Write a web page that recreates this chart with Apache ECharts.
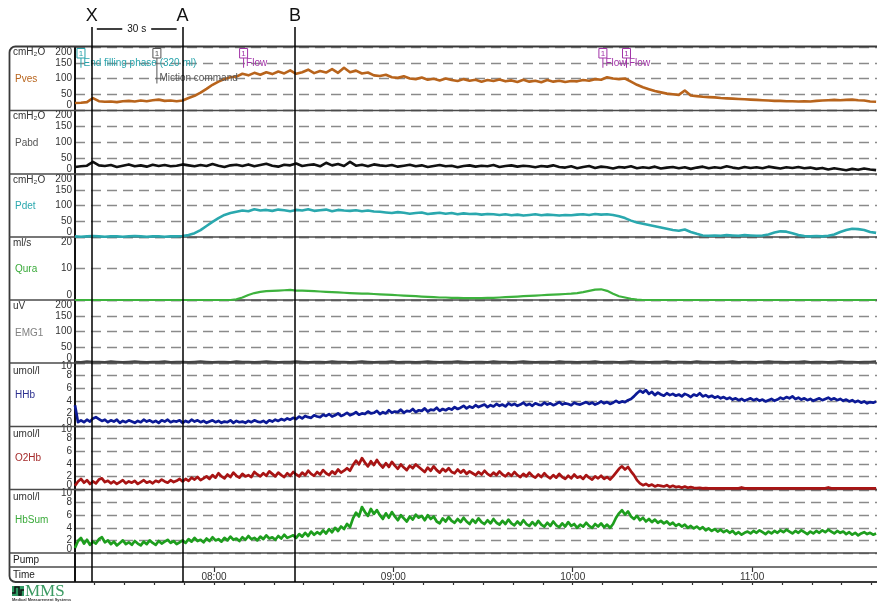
<!DOCTYPE html>
<html><head><meta charset="utf-8">
<script src="https://cdn.jsdelivr.net/npm/echarts@6/dist/echarts.min.js"></script>
<style>html,body{margin:0;padding:0;background:#fff}#c{width:877px;height:602px}</style>
</head><body><div id="c"></div>
<script>
// ---- time axis (minutes after 07:00) ----
const X_MIN = 13.5, X_MAX = 281.8;
const T0 = 13.5;
const timeTicks = [20,30,40,50,60,70,80,90,100,110,120,130,140,150,160,170,180,190,200,210,220,230,240,250,260,270,280];
const hourTicks = [60,120,180,240];
// cursor lines
const cursorNames = ['X','A','B'];
const cursorTimes = [19.1, 49.5, 87.1];
// events in Pves panel
const eventTimes = [15.5, 40.9, 69.9, 190.1, 198.0];
const eventLevels = [150, 100, 150, 150, 150];
const eventTexts = ['End filling phase (320 ml)', 'Miction command', 'Flow', 'Flow', 'Flow'];
const eventColors = ['#27a3ab', '#555555', '#a235a8', '#a235a8', '#a235a8'];

// ---- channel values (2-min sampling) ----
const pves = [22,23,25,38,28,
26,27,25,28,29,27,30,28,31,33,29,30,28,
30,38,45,55,67,80,90,98,104,106,
115,110,118,112,120,114,122,116,126,115,120,128,117,124,119,130,118,134,120,125,116,119,
110,108,112,104,102,107,100,98,103,96,
99,94,100,95,92,98,93,96,90,95,
92,97,91,94,89,96,90,93,88,95,
90,93,89,92,91,95,93,98,96,104,
100,98,100,90,80,72,66,60,56,52,
50,48,62,46,44,42,41,40,38,37,
36,35,34,33,32,31,30,29,29,28,
28,27,28,27,29,30,31,32,31,32,
33,31,30,27,26];
const pabd = [22,24,26,38,27,25,28,22,26,30,
24,27,23,29,25,28,24,26,30,27,
24,28,25,31,26,22,27,29,25,30,
24,28,32,26,23,29,27,33,25,28,
30,24,35,27,31,25,38,26,29,24,
30,27,25,28,23,26,29,24,27,22,
25,28,24,26,21,25,27,23,26,24,
28,22,25,27,23,26,24,21,25,23,
27,22,20,24,18,22,25,19,23,21,
17,22,20,24,18,21,19,23,17,20,
22,18,21,16,20,23,18,21,19,24,
20,17,22,19,21,18,23,20,17,21,
19,22,18,20,16,19,14,18,15,12,
16,13,17,14,12];
const pdet = [2,1,2,3,2,1,2,2,1,2,3,2,1,2,2,1,2,2,3,
6,12,22,35,48,60,70,76,80,
84,82,88,84,86,83,87,85,82,86,84,88,83,85,87,82,86,84,83,85,82,84,81,
80,78,76,79,77,74,76,78,73,75,77,74,76,72,75,73,74,71,73,72,
70,72,69,71,68,70,72,69,71,70,68,70,69,71,72,70,73,71,72,70,
66,60,52,46,42,38,34,30,26,22,20,24,16,10,5,
4,5,4,6,5,4,6,5,4,5,
8,14,18,17,12,6,
3,2,3,2,4,
8,16,22,26,25,22,16,13];
const qura = [0,0,0,0,0,0,0,0,0,0,0,0,0,0,0,0,0,0,0,0,0,0,0,0,0,0,0,
0.2,0.8,1.6,2.2,2.6,2.8,2.9,3.0,3.1,3.2,
3.0,3.0,2.9,2.8,2.7,2.6,2.5,2.4,2.3,2.2,2.1,2.0,2.0,1.9,1.8,
1.7,1.6,1.5,1.4,1.3,1.2,1.1,1.0,0.9,
0.8,0.8,0.7,0.7,0.6,0.6,0.6,0.6,0.7,0.7,
0.8,0.9,1.0,1.1,1.2,1.3,1.4,1.5,
1.6,1.7,1.8,1.9,2.0,2.2,2.5,2.9,
3.3,3.4,2.9,2.0,1.2,0.8,0.4,0.1,
0,0,0,0,0,0,0,0,0,0,0,0,0,0,0,0,0,0,0,0,0,0,0,0,0,0,0,0,0,0,0,0,0,0,0,0,0,0,0,0];
const emg1 = [4,3,5,4,4,3,5,4,3,4,
5,4,3,4,4,5,3,4,4,3,
4,5,4,3,4,4,3,5,4,4,
3,4,5,4,3,4,4,5,4,3,
4,4,3,5,4,4,3,4,5,4,
3,4,4,5,3,4,4,3,4,5,
4,3,4,4,5,4,3,4,4,3,
5,4,4,3,4,5,4,3,4,4,
3,5,4,4,3,4,4,5,3,4,
4,3,4,5,4,4,3,4,4,5,
3,4,4,3,5,4,4,3,4,4,
5,3,4,4,3,4,5,4,4,3,
4,4,5,3,4,4,3,4,5,4,
4,3,4,4,5];
// ---- NIRS channels (1-min sampling) ----
const hhb = [3.3,0.6,
0.9,0.6,1.0,0.7,1.2,1.4,1.1,0.8,1.0,0.6,
0.9,0.7,1.0,0.5,0.8,0.6,0.9,0.7,0.5,0.8,
0.6,1.0,0.7,0.9,0.6,0.8,0.5,0.9,0.7,1.0,
0.6,0.8,0.7,0.9,0.5,0.8,0.6,1.0,0.7,0.9,
0.6,0.8,0.5,0.7,0.9,0.6,0.8,0.5,0.7,0.6,
0.9,0.5,0.8,0.6,0.7,0.5,0.8,0.6,0.9,0.7,
0.6,0.8,0.5,0.9,0.7,1.0,0.8,1.1,0.9,1.2,
1.0,
1.3,1.1,1.5,1.2,1.6,1.4,1.3,1.7,1.5,1.4,
1.8,1.6,1.9,1.5,1.7,2.0,1.6,1.8,2.1,1.7,
1.9,2.2,1.8,2.0,1.9,2.3,2.0,2.1,2.4,1.9,
2.2,2.0,2.5,2.1,2.3,2.2,2.6,2.1,2.4,2.3,
2.7,2.2,2.5,2.4,2.8,2.3,2.6,2.5,2.9,2.4,
2.7,2.5,2.8,
2.6,3.0,2.7,2.9,3.2,2.8,3.1,2.9,3.3,3.0,
3.2,3.4,3.0,3.3,3.1,3.5,3.2,3.4,3.1,3.6,
3.3,3.5,3.2,3.4,3.7,3.3,3.5,3.2,3.6,3.4,
3.3,3.7,3.4,3.6,3.3,3.5,3.8,3.4,3.6,3.5,
3.3,3.7,3.5,3.4,3.6,3.8,3.5,3.7,3.4,3.6,
3.9,3.6,3.8,3.5,3.7,4.0,3.7,3.9,3.8,4.1,
4.3,4.7,5.2,5.6,5.3,5.7,5.1,5.4,4.9,5.3,5.0,4.8,5.2,4.9,5.1,
4.8,5.0,4.7,5.1,4.9,4.6,5.0,4.8,5.2,4.7,
4.9,4.6,4.8,4.5,4.7,4.4,4.6,4.3,4.5,4.2,
4.4,4.1,4.3,4.0,4.2,4.4,4.1,4.3,4.0,4.2,
3.9,4.1,4.3,4.0,4.2,4.5,4.3,4.6,4.4,4.7,
4.3,4.5,4.2,4.4,4.1,4.3,4.0,4.2,4.4,4.1,
4.3,4.5,4.2,4.4,4.1,4.3,4.0,4.2,3.9,4.1,
3.8,4.0,3.7,3.9,3.6,3.8,3.7,3.9];
const o2hb = [0.5,1.2,1.6,1.0,1.4,0.8,1.2,0.9,1.5,1.7,
1.1,1.3,0.9,1.2,0.8,1.1,1.4,0.9,1.2,1.0,
1.3,0.8,1.1,1.4,1.0,1.2,0.9,1.3,1.1,1.5,
1.2,1.0,1.4,1.1,1.3,1.6,
1.2,1.6,1.3,1.8,1.5,1.9,1.4,1.7,2.0,1.6,
2.2,1.8,2.5,2.0,1.7,2.3,1.9,2.6,2.1,1.8,
2.4,2.0,2.2,1.9,2.7,2.3,2.0,2.5,2.1,2.8,
2.4,2.0,2.6,2.2,1.9,2.5,2.1,2.7,2.3,2.0,
2.6,2.2,2.9,2.4,2.1,2.7,2.3,3.0,2.5,2.2,
2.8,2.4,3.1,2.6,2.9,
3.3,2.9,3.8,4.5,3.9,4.9,4.2,3.6,4.4,3.8,
4.6,3.9,3.4,4.1,3.5,4.3,3.7,3.2,3.9,3.4,
3.0,3.7,3.3,3.9,3.5,
3.1,2.7,3.4,2.9,3.6,3.0,2.6,3.2,2.8,3.3,
2.7,2.5,3.1,2.6,3.0,2.4,2.8,2.5,2.2,2.7,
2.3,2.9,2.4,2.1,2.6,2.2,2.8,2.3,2.0,2.5,
2.1,2.7,2.2,1.9,2.4,2.0,2.6,2.1,1.8,2.3,
1.9,2.5,2.0,1.7,2.2,1.8,2.4,1.9,1.6,2.1,
1.7,2.3,1.8,2.0,1.6,2.2,1.8,1.5,2.0,1.7,
2.1,1.6,1.9,1.5,2.0,
2.6,3.2,3.6,3.1,3.5,2.8,2.2,1.4,0.9,0.6,0.8,0.5,0.7,0.4,0.6,0.5,
0.4,0.6,0.3,0.5,0.3,0.4,0.2,0.4,0.2,0.3,
0.2,0.15,0.2,0.1,0.15,0.1,0.1,0.1,0.1,0.1,
0.1,0.1,0.1,0.1,0.1,0.1,0.25,0.1,0.1,0.1,
0.1,0.1,0.1,0.1,0.1,0.1,0.1,0.1,0.1,0.1,
0.1,0.1,0.1,0.1,0.1,0.1,0.1,0.1,0.1,0.1,
0.1,0.1,0.1,0.1,0.1,0.25,0.1,0.1,0.1,0.1,
0.1,0.1,0.1,0.1,0.1,0.1,0.1,0.1,0.1,0.1,
0.1,0.1];
const hbsum = [0.8,1.9,2.4,1.5,2.1,1.3,1.8,1.5,2.2,2.5,
1.7,2.0,1.4,1.8,1.2,1.6,2.0,1.4,1.7,1.3,
1.9,1.5,1.2,1.8,1.4,2.0,1.6,1.3,1.9,1.5,
1.8,2.1,1.6,1.9,1.4,1.7,2.0,1.6,2.2,1.8,
2.4,1.9,2.1,1.7,2.3,1.9,2.5,2.0,2.2,1.8,
2.4,2.0,2.6,2.1,2.3,1.9,2.5,2.1,2.7,2.2,
2.4,2.0,2.6,2.2,2.8,2.3,2.5,2.1,2.7,2.3,
2.9,2.4,2.6,
2.8,2.4,3.0,2.6,3.2,2.7,3.4,2.9,3.3,3.0,3.6,3.1,3.8,3.3,4.0,3.5,4.2,3.8,
4.6,4.1,5.5,6.4,5.8,7.3,6.5,5.9,7.0,6.2,
6.8,6.0,5.4,6.3,5.6,6.5,5.8,5.2,6.0,5.5,
5.0,5.8,5.3,6.1,5.6,
5.9,5.2,6.0,5.4,5.8,5.0,4.7,5.5,5.0,5.7,
5.1,4.8,5.4,4.9,5.6,5.0,4.6,5.3,4.8,5.5,
4.9,4.6,5.2,4.7,5.4,4.8,4.5,5.1,4.6,5.3,
4.7,4.4,5.0,4.5,5.2,4.6,4.3,4.9,4.4,5.1,
4.5,4.2,4.8,4.3,5.0,4.4,4.1,4.7,4.2,4.9,
4.3,4.6,4.0,4.5,4.2,4.8,4.3,4.0,4.6,4.2,
4.7,4.1,4.5,4.0,4.6,
5.6,6.3,6.8,6.1,6.6,5.8,5.4,5.9,5.2,5.6,5.0,5.4,4.9,5.3,4.8,5.1,
4.7,5.0,4.5,4.8,4.3,4.6,4.2,4.5,4.0,4.3,
3.9,4.2,3.8,4.1,3.6,3.9,3.5,3.8,3.4,3.7,
3.3,3.6,3.2,3.5,3.0,3.3,2.9,3.2,3.4,3.1,
3.5,3.2,3.6,3.3,3.0,3.4,3.1,3.5,3.2,3.6,
3.3,3.7,3.4,3.1,3.5,3.2,3.6,3.3,3.0,3.4,
3.1,3.5,3.2,3.6,3.3,3.7,3.4,3.1,3.5,3.2,
3.4,3.0,3.3,2.9,3.2,2.8,3.1,3.3,3.0,3.2,
2.9,3.1];

// ---- channel definitions ----
const chNames = ['Pves','Pabd','Pdet','Qura','EMG1','HHb','O2Hb','HbSum'];
const chUnits = ['cmH\u2082O','cmH\u2082O','cmH\u2082O','ml/s','uV','umol/l','umol/l','umol/l'];
const chMax = [200,200,200,20,200,10,10,10];
const chStep = [50,50,50,10,50,2,2,2];
const chData = [pves,pabd,pdet,qura,emg1,hhb,o2hb,hbsum];
const chDt = [2,2,2,2,2,1,1,1];

// ---- layout / style ----
const FONT = 'Liberation Sans, Arial, sans-serif';
const tops = [47,110,174,237,300,363,426,490];
const heights = [63,64,63,63,63,63,63,63];
const lineColors = ['#b8641c','#111111','#2aa8ae','#3db23d','#444444','#0c1a96','#a81414','#1e9e1e'];
const nameColors = ['#b8641c','#555555','#2aa8ae','#3aaa3a','#808080','#2b2f8f','#a52a2a','#3aaa3a'];
const lineWidths = [2.6,2.6,2.6,2.2,2.2,2.7,2.7,2.7];

const grids = [], xAxes = [], yAxes = [], series = [], endAxes = [];
for (let i = 0; i < 8; i++) {
  grids.push({left:75, right:0, top:tops[i], height:heights[i]});
  xAxes.push({gridIndex:i, type:'value', min:X_MIN, max:X_MAX, show:false});
  const mx = chMax[i];
  const lab = {fontSize:10, color:'#333', fontFamily:FONT};
  const pad = mx === 10 ? 7 : 10;
  // main axis: line, dashed grid, inner labels
  yAxes.push({gridIndex:i, type:'value', min:0, max:mx, interval:chStep[i],
    axisLine:{show:true, lineStyle:{color:'#111', width:2}},
    axisTick:{show:false},
    splitLine:{show:true, lineStyle:{color:'#8a8a8a', width:1.3, type:[10,6]}},
    axisLabel:{margin:3, fontSize:10, color:'#333', fontFamily:FONT, hideOverlap:false,
      formatter: v => (v === 0 || v === mx) ? '' : String(v)}
  });
  // end labels (0 and max), nudged inside the panel
  endAxes.push({gridIndex:i, type:'value', min:0, max:mx, position:'left', offset:0,
    axisLine:{show:false}, axisTick:{show:false}, splitLine:{show:false},
    axisLabel:{margin:3, customValues:[0, mx], hideOverlap:false, fontSize:10, color:'#333', fontFamily:FONT,
      formatter: v => v === mx ? '{t|' + v + '}' : '{b|' + v + '}',
      rich:{t:Object.assign({padding:[pad,0,0,0]}, lab), b:Object.assign({padding:[0,0,pad,0]}, lab)}}
  });
  const dt = chDt[i];
  series.push({type:'line', xAxisIndex:i, yAxisIndex:i, showSymbol:false, symbol:'none',
    data: chData[i].map((v,k) => [T0 + k*dt, v]),
    lineStyle:{color:lineColors[i], width:lineWidths[i], join:'round'}, silent:true, z:3});
}
// time row
grids.push({left:75, right:0, top:567, height:15});
xAxes.push({gridIndex:8, type:'value', min:X_MIN, max:X_MAX, position:'top',
  axisLine:{show:false}, splitLine:{show:false},
  axisTick:{show:true, inside:true, length:3, customValues:timeTicks, lineStyle:{color:'#333', width:1.2}},
  axisLabel:{show:true, inside:true, margin:5, customValues:hourTicks, fontSize:10, color:'#333', fontFamily:FONT,
    formatter: v => { const h = 7 + Math.round(v/60); return (h < 10 ? '0' : '') + h + ':00'; }}
});
xAxes.push({gridIndex:8, type:'value', min:X_MIN, max:X_MAX, position:'top', offset:0,
  axisLine:{show:false}, splitLine:{show:false}, axisLabel:{show:false},
  axisTick:{show:true, inside:true, length:5, customValues:hourTicks, lineStyle:{color:'#333', width:1.2}}
});
yAxes.push({gridIndex:8, type:'value', show:false, min:0, max:1});
// overlay for cursor lines
grids.push({left:75, right:0, top:20, bottom:20});
xAxes.push({gridIndex:9, type:'value', min:X_MIN, max:X_MAX, show:false});
yAxes.push({gridIndex:9, type:'value', min:0, max:1, show:false});
endAxes.forEach(a => yAxes.push(a));

// events
series.push({type:'custom', xAxisIndex:0, yAxisIndex:0, clip:false, silent:true, z:4,
  data: eventTimes.map((t,i) => [t, eventLevels[i]]),
  renderItem: function (params, api) {
    const i = params.dataIndex;
    const t = api.value(0), lv = api.value(1);
    const top = api.coord([t, 200]);
    const lp = api.coord([t, lv]);
    const col = eventColors[i];
    return {type:'group', children:[
      {type:'rect', shape:{x:top[0]-4, y:top[1]+1.5, width:8, height:9.5}, style:{fill:'#fff', stroke:col, lineWidth:1}},
      {type:'text', style:{x:top[0], y:top[1]+6.5, text:'1', fill:col, font:'8px ' + FONT, align:'center', verticalAlign:'middle'}},
      {type:'line', shape:{x1:top[0], y1:top[1]+11, x2:top[0], y2:lp[1]+5}, style:{stroke:col, lineWidth:1}},
      {type:'text', style:{x:top[0]+2.5, y:lp[1], text:eventTexts[i], fill:col, font:'10px ' + FONT, verticalAlign:'middle'}}
    ]};
  }
});

// cursor lines X, A, B and "30 s"
const yTop = 1 - 7/562, y30 = 1 - 9/562;
const mlData = cursorTimes.map((t,i) => [
  {coord:[t, 0], name:cursorNames[i]},
  {coord:[t, yTop]}
]);
mlData.push([
  {coord:[cursorTimes[0] + 1.7, y30], name:'30 s',
   label:{position:'middle', fontSize:10, color:'#111', backgroundColor:'#fff', padding:[1,5], distance:-6, formatter:'{b}'}},
  {coord:[cursorTimes[1] - 2.0, y30]}
]);
series.push({type:'line', xAxisIndex:10, yAxisIndex:9, data:[], silent:true, z:10,
  markLine:{silent:true, symbol:['none','none'], animation:false,
    lineStyle:{color:'#000', width:1.5, type:'solid'},
    label:{show:true, position:'end', formatter:'{b}', fontSize:18, color:'#111', fontFamily:FONT, distance:2},
    data: mlData}
});

// frame, separators, labels
const gfx = [];
gfx.push({type:'rect', z:1, shape:{x:9.5, y:46.5, width:900, height:535.5, r:6}, style:{fill:'none', stroke:'#3a3a3a', lineWidth:1.8}});
[110.5,174,237,300,363,426.5,489.5,553,567].forEach(y => {
  gfx.push({type:'line', z:1, shape:{x1:9.5, y1:y, x2:877, y2:y}, style:{stroke:'#4a4a4a', lineWidth:1.5}});
});
gfx.push({type:'line', z:1, shape:{x1:75, y1:553, x2:75, y2:582}, style:{stroke:'#111', lineWidth:2}});
const unitY = [52,116,180,243,306,371,434,497];
const nameY = [79,143,206,269,333,395,458,520];
for (let i = 0; i < 8; i++) {
  gfx.push({type:'text', z:5, style:{x:13, y:unitY[i], text:chUnits[i], fill:'#333', font:'10px ' + FONT, verticalAlign:'middle'}});
  gfx.push({type:'text', z:5, style:{x:15, y:nameY[i], text:chNames[i], fill:nameColors[i], font:'10px ' + FONT, verticalAlign:'middle'}});
}
gfx.push({type:'text', z:5, style:{x:13, y:560, text:'Pump', fill:'#222', font:'10px ' + FONT, verticalAlign:'middle'}});
gfx.push({type:'text', z:5, style:{x:13, y:575, text:'Time', fill:'#222', font:'10px ' + FONT, verticalAlign:'middle'}});
// logo
gfx.push({type:'rect', z:5, shape:{x:12, y:586, width:12, height:10}, style:{fill:'#2f9a63'}});
gfx.push({type:'polyline', z:6, shape:{points:[[12,593],[15,593],[15,587],[19,587],[19,595],[21,595],[21,590],[24,590]]}, style:{stroke:'#111', lineWidth:1.5, fill:'none'}});
gfx.push({type:'text', z:5, style:{x:25, y:592, text:'MMS', fill:'#3a9a62', font:'17px Liberation Serif, serif', verticalAlign:'middle'}});
gfx.push({type:'text', z:5, style:{x:12, y:600, text:'Medical Measurement Systems', fill:'#333', font:'bold 4px ' + FONT, verticalAlign:'middle'}});

const chart = echarts.init(document.getElementById('c'), null, {renderer:'canvas'});
chart.setOption({
  animation:false,
  backgroundColor:'#fff',
  textStyle:{fontFamily:FONT},
  grid:grids, xAxis:xAxes, yAxis:yAxes, series:series, graphic:gfx
});
</script>
</body></html>
